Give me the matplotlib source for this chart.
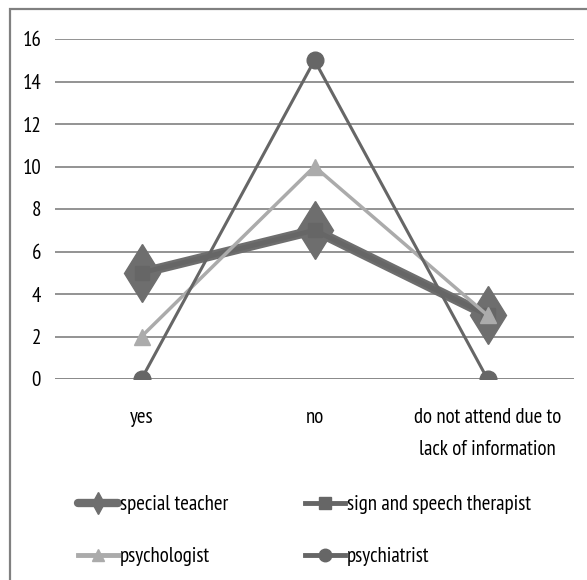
import matplotlib.pyplot as plt
from matplotlib.patches import Rectangle
from matplotlib.lines import Line2D
import numpy as np

categories = ['yes', 'no', 'do not attend due to\nlack of information']
special_teacher = [5, 7, 3]
sign_speech = [5, 7, 3]
psychologist = [2, 10, 3]
psychiatrist = [0, 15, 0]
yticks = [0, 2, 4, 6, 8, 10, 12, 14, 16]
labels = ['special teacher', 'sign and speech therapist', 'psychologist', 'psychiatrist']

plt.rcParams['font.family'] = ['PT Sans Narrow', 'DejaVu Sans']

c_dark = '#666666'
c_mid = '#6e6e6e'
c_light = '#ababab'

fig = plt.figure(figsize=(5.87, 5.80), dpi=100)
# outer chart frame (cropped at right and bottom)
fig.patches.append(Rectangle((10/587, -0.1), 1.2, 1 - 9/580 + 0.1,
                             transform=fig.transFigure, fill=False,
                             edgecolor='#808080', lw=1.6))

ax = fig.add_axes([55/587, 1 - 379/580, 519/587, (379 - 39)/580])
x = np.arange(len(categories))

ax.plot(x, special_teacher, color=c_mid, lw=7, marker='d',
        markersize=30, solid_capstyle='round', zorder=3)
ax.plot(x, sign_speech, color=c_dark, lw=3.5, marker='s',
        markersize=10, zorder=4)
ax.plot(x, psychologist, color=c_light, lw=2.5, marker='^',
        markersize=12, zorder=5)
ax.plot(x, psychiatrist, color=c_dark, lw=2.2, marker='o',
        markersize=12, zorder=6)

ax.set_xlim(-0.5, 2.5)
ax.set_ylim(0, 16)
ax.set_yticks(yticks)
ax.set_xticks(x)
ax.set_xticklabels(categories, fontsize=15, linespacing=1.85, va='top')
ax.tick_params(axis='y', length=0, pad=10, labelsize=15)
ax.tick_params(axis='x', length=0, pad=21)
ax.yaxis.grid(True, color='#8a8a8a', lw=1.3)
ax.set_axisbelow(True)
for s in ax.spines.values():
    s.set_visible(False)
ax.axhline(0, color='#8a8a8a', lw=1.3, zorder=1)

# legend keys, drawn a little smaller than the plot markers
h_st = Line2D([], [], color=c_mid, lw=6, marker='d', markersize=11, solid_capstyle='round')
h_ss = Line2D([], [], color=c_dark, lw=3.5, marker='s', markersize=9)
h_ps = Line2D([], [], color=c_light, lw=3.5, marker='^', markersize=9)
h_pc = Line2D([], [], color=c_dark, lw=3.5, marker='o', markersize=9)

handles = [h_st, h_ps, h_ss, h_pc]
order = [labels[0], labels[2], labels[1], labels[3]]
fig.legend(handles, order, ncol=2, frameon=False, fontsize=15,
           loc='upper left', bbox_to_anchor=(78/587, 1 - 495/580),
           borderaxespad=0, borderpad=0,
           handlelength=1.9, handletextpad=0.1, columnspacing=3.7,
           labelspacing=1.6)

fig.savefig('out.png', dpi=100)
